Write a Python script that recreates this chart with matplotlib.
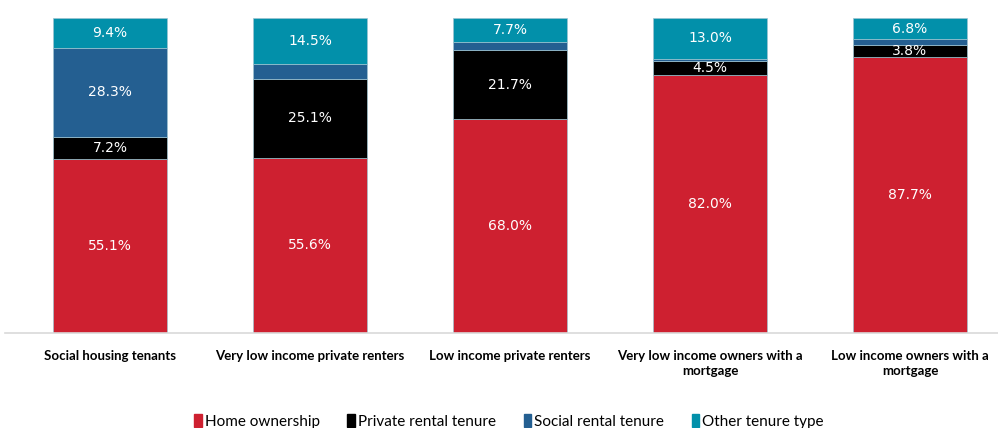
import numpy as np
import matplotlib.pyplot as plt
import matplotlib.patches as mpatches

# Tenure shares (%) for each household group
groups = ['Social housing tenants', 'Very low income private renters',
          'Low income private renters', 'Very low income owners with a\nmortgage',
          'Low income owners with a\nmortgage']
home_ownership = [55.1, 55.6, 68.0, 82.0, 87.7]
private_rental = [7.2, 25.1, 21.7, 4.5, 3.8]
social_rental = [28.3, 4.8, 2.6, 0.5, 1.7]
other_tenure = [9.4, 14.5, 7.7, 13.0, 6.8]

series = [
    ('Home ownership', home_ownership, '#CE2030', True),
    ('Private rental tenure', private_rental, '#000000', True),
    ('Social rental tenure', social_rental, '#245F91', False),
    ('Other tenure type', other_tenure, '#0290AA', True),
]
# social rental only gets a label when the segment is big enough
label_min = 10

narrow = ['Lato', 'DejaVu Sans']

fig = plt.figure(figsize=(9.98, 4.28), dpi=100)
ax = fig.add_axes([0.005, 0.222, 0.995, 0.736])

x = np.arange(len(groups))
bottom = np.zeros(len(groups))
for name, vals, color, always in series:
    vals = np.array(vals)
    ax.bar(x, vals, bottom=bottom, width=0.57, color=color,
           edgecolor='#9ec3d0', linewidth=0.5, label=name)
    for xi, b, v in zip(x, bottom, vals):
        if always or v >= label_min:
            ax.text(xi, b + v / 2, f'{v:.1f}%', ha='center', va='center',
                    color='white', fontsize=10, family='DejaVu Sans')
    bottom += vals

ax.set_ylim(0, 100)
ax.set_xlim(-0.525, 4.44)
ax.set_yticks([])
ax.set_xticks(x)
ax.set_xticklabels(groups, fontsize=9.5, fontweight='bold', family=narrow,
                   linespacing=1.3)
ax.tick_params(axis='x', length=0, pad=12)
for side in ['top', 'right', 'left']:
    ax.spines[side].set_visible(False)
ax.spines['bottom'].set_color('#d9d9d9')
ax.spines['bottom'].set_linewidth(1.2)

handles = [mpatches.Patch(color=c, label=n) for n, _, c, _ in series]
fig.legend(handles=handles, loc='center', bbox_to_anchor=(0.51, 0.015),
           ncol=4, frameon=False, handlelength=0.5, handleheight=0.9,
           handletextpad=0.2, columnspacing=1.8,
           prop={'family': narrow, 'size': 11})

fig.savefig('out.png', dpi=100, facecolor='white')
